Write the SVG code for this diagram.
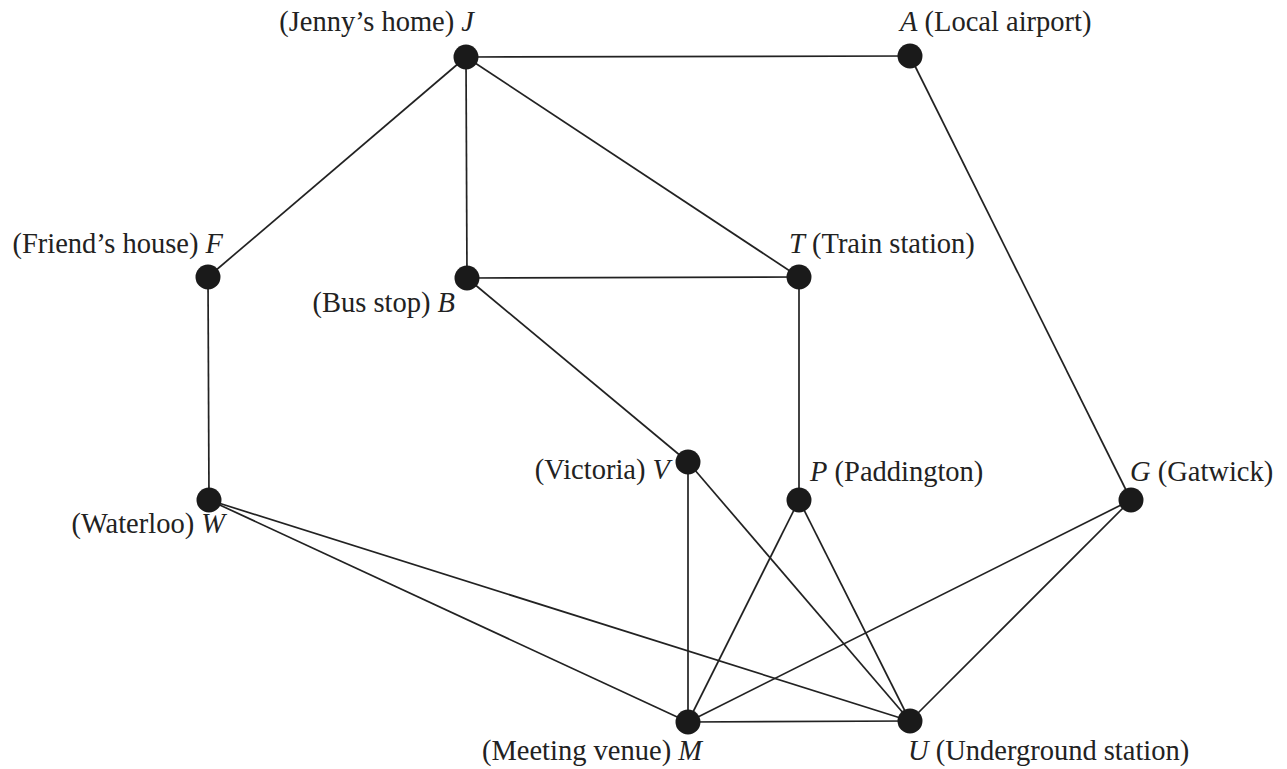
<svg xmlns="http://www.w3.org/2000/svg" width="1287" height="769" viewBox="0 0 1287 769">
<style>
.e{stroke:#222;stroke-width:1.7;fill:none}
.n{fill:#1a1a1a}
text{font-family:"Liberation Serif","Times New Roman",serif;font-size:28.5px;fill:#222}
.i{font-style:italic}
</style>
<rect width="1287" height="769" fill="#fff"/>
<g id="edges">
<line class="e" x1="466" y1="57" x2="910" y2="56"/>
<line class="e" x1="466" y1="57" x2="208" y2="277"/>
<line class="e" x1="466" y1="57" x2="467" y2="278"/>
<line class="e" x1="466" y1="57" x2="799" y2="277"/>
<line class="e" x1="467" y1="278" x2="799" y2="277"/>
<line class="e" x1="467" y1="278" x2="688" y2="462"/>
<line class="e" x1="799" y1="277" x2="799" y2="500"/>
<line class="e" x1="910" y1="56" x2="1131" y2="500"/>
<line class="e" x1="208" y1="277" x2="209" y2="500"/>
<line class="e" x1="209" y1="500" x2="688" y2="722"/>
<line class="e" x1="209" y1="500" x2="910" y2="721"/>
<line class="e" x1="688" y1="462" x2="688" y2="722"/>
<line class="e" x1="688" y1="462" x2="910" y2="721"/>
<line class="e" x1="799" y1="500" x2="688" y2="722"/>
<line class="e" x1="799" y1="500" x2="910" y2="721"/>
<line class="e" x1="1131" y1="500" x2="688" y2="722"/>
<line class="e" x1="1131" y1="500" x2="910" y2="721"/>
<line class="e" x1="688" y1="722" x2="910" y2="721"/>
</g>
<g id="node-J"><circle class="n" cx="466" cy="57" r="12.5"/><text x="474" y="31" text-anchor="end">(Jenny’s home) <tspan class="i">J</tspan></text></g>
<g id="node-A"><circle class="n" cx="910" cy="56" r="12.5"/><text x="900" y="31"><tspan class="i">A</tspan> (Local airport)</text></g>
<g id="node-F"><circle class="n" cx="208" cy="277" r="12.5"/><text x="223" y="253" text-anchor="end">(Friend’s house) <tspan class="i">F</tspan></text></g>
<g id="node-B"><circle class="n" cx="467" cy="278" r="12.5"/><text x="455" y="312" text-anchor="end">(Bus stop) <tspan class="i">B</tspan></text></g>
<g id="node-T"><circle class="n" cx="799" cy="277" r="12.5"/><text x="789" y="253"><tspan class="i">T</tspan> (Train station)</text></g>
<g id="node-V"><circle class="n" cx="688" cy="462" r="12.5"/><text x="670" y="479" text-anchor="end">(Victoria) <tspan class="i">V</tspan></text></g>
<g id="node-P"><circle class="n" cx="799" cy="500" r="12.5"/><text x="810" y="481"><tspan class="i">P</tspan> (Paddington)</text></g>
<g id="node-G"><circle class="n" cx="1131" cy="500" r="12.5"/><text x="1130" y="481"><tspan class="i">G</tspan> (Gatwick)</text></g>
<g id="node-W"><circle class="n" cx="209" cy="500" r="12.5"/><text x="225" y="533" text-anchor="end">(Waterloo) <tspan class="i">W</tspan></text></g>
<g id="node-M"><circle class="n" cx="688" cy="722" r="12.5"/><text x="702" y="760" text-anchor="end">(Meeting venue) <tspan class="i">M</tspan></text></g>
<g id="node-U"><circle class="n" cx="910" cy="721" r="12.5"/><text x="908" y="760"><tspan class="i">U</tspan> (Underground station)</text></g>
</svg>
